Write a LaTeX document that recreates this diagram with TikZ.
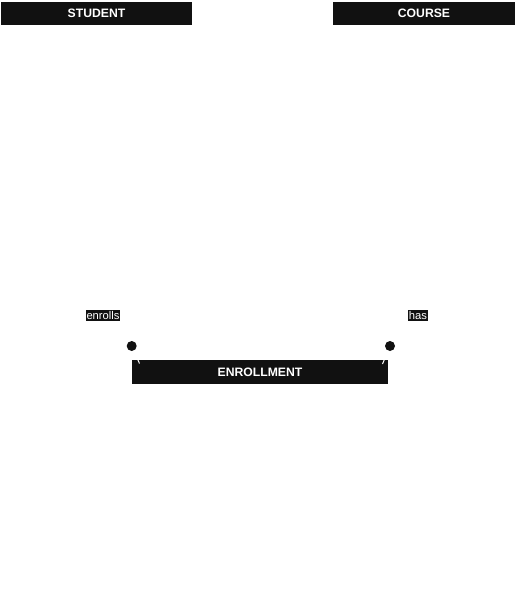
\documentclass[tikz,border=0pt]{standalone}
\usepackage{fontspec}
\setmainfont{Liberation Sans}
\definecolor{boxfill}{HTML}{111111}
\begin{document}
\begin{tikzpicture}[
    x=1pt, y=-1pt,
    entity/.style={draw=none, fill=boxfill, text=white, inner sep=0pt,
        minimum height=23pt, font=\fontsize{12.2}{14}\selectfont\bfseries},
    rel/.style={draw=none, fill=boxfill, text=white, inner sep=1pt,
        font=\fontsize{11.2}{13}\selectfont},
    card/.style={circle, fill=boxfill, inner sep=0pt, minimum size=10pt},
    link/.style={draw=white, line width=1pt}
]
\useasboundingbox (0,0) rectangle (516,607);
% entities
\node[entity, minimum width=191pt] (student) at (96.5,13.5) {STUDENT};
\node[entity, minimum width=182pt] (course) at (424,13.5) {COURSE};
\node[entity, minimum width=256pt, minimum height=24pt] (enrollment) at (260,372) {ENROLLMENT};
% relationship labels
\node[rel] (enrolls) at (103,315.5) {enrolls};
\node[rel] (has) at (418,315.5) {has};
% cardinality dots
\node[card] (dotl) at (131.7,346) {};
\node[card] (dotr) at (390,346) {};
% connector ends
\coordinate (endl) at (139.5,363.5);
\coordinate (endr) at (382.5,364);
\draw[link] (dotl) -- (endl);
\draw[link] (dotr) -- (endr);
\end{tikzpicture}
\end{document}
